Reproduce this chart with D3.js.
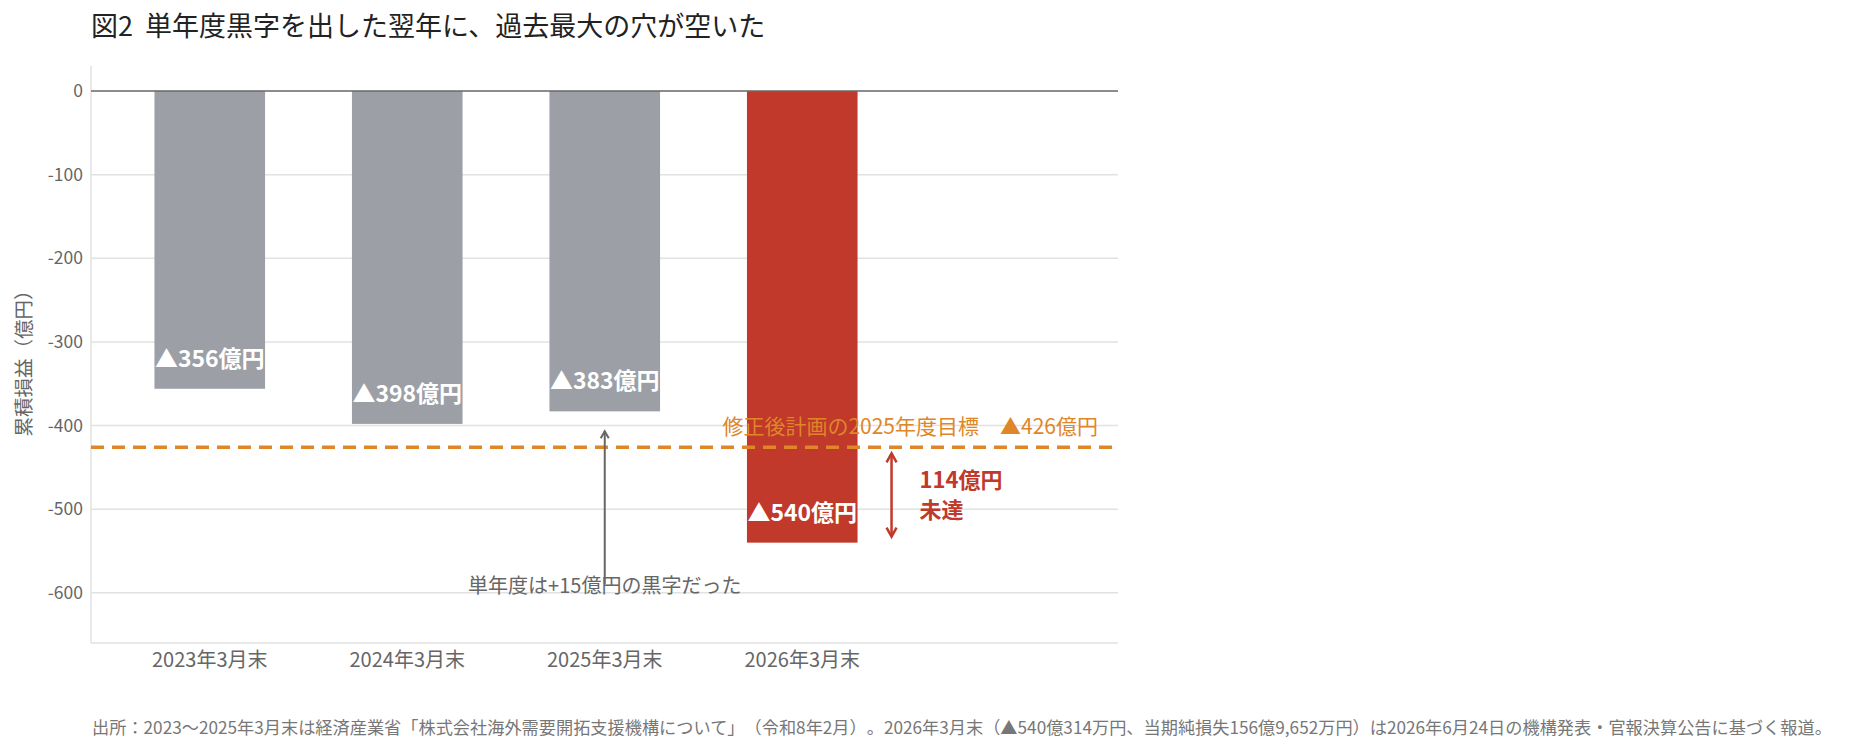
<!DOCTYPE html>
<html>
<head>
<meta charset="utf-8">
<script src="https://cdn.jsdelivr.net/npm/d3@7"></script>
<style>
  body { margin: 0; background: #fff; }
  svg { font-family: "Noto Sans CJK JP", "Noto Sans", sans-serif; text-spacing-trim: space-all; }
</style>
</head>
<body>
<div id="chart"></div>
<script>
// data
const categories = ["2023年3月末", "2024年3月末", "2025年3月末", "2026年3月末"];
const values = [-356, -398, -383, -540];
const barColors = ["#9ca0a6", "#9ca0a6", "#9ca0a6", "#c0392b"];
const yTicks = [0, -100, -200, -300, -400, -500, -600];
const target = -426;
const targetLabel = "修正後計画の2025年度目標　▲426億円";
const gapLines = ["114億円", "未達"];
const noteText = "単年度は+15億円の黒字だった";

function drawChart() {
    const width = 1850;
    const height = 751;
    const left = 91, right = 1118, top = 66, bottom = 643;

    const svg = d3.select("#chart")
        .append("svg")
        .attr("width", width)
        .attr("height", height);

    const x = d3.scaleBand()
        .domain(categories)
        .range([111, 901])
        .paddingInner(0.44)
        .paddingOuter(0.22);

    const y = d3.scaleLinear()
        .domain([-660, 30])
        .range([bottom, top]);

    // title
    const title = svg.append("text")
        .attr("x", 91)
        .attr("y", 36)
        .attr("font-size", 27)
        .attr("fill", "#222");
    title.append("tspan").text("図2");
    title.append("tspan").attr("dx", 12).text("単年度黒字を出した翌年に、過去最大の穴が空いた");

    // gridlines
    svg.append("g").selectAll("line")
        .data(yTicks.filter(d => d !== 0))
        .enter().append("line")
        .attr("x1", left)
        .attr("x2", right)
        .attr("y1", d => y(d))
        .attr("y2", d => y(d))
        .attr("stroke", "#e2e2e2")
        .attr("stroke-width", 1.5);

    // frame lines
    svg.append("line")
        .attr("x1", left).attr("x2", left)
        .attr("y1", top).attr("y2", bottom)
        .attr("stroke", "#e2e2e2").attr("stroke-width", 1.5);
    svg.append("line")
        .attr("x1", left).attr("x2", right)
        .attr("y1", bottom).attr("y2", bottom)
        .attr("stroke", "#e2e2e2").attr("stroke-width", 1.5);

    // y tick labels
    svg.append("g").selectAll("text")
        .data(yTicks)
        .enter().append("text")
        .attr("x", 83)
        .attr("y", d => y(d))
        .attr("dy", "0.35em")
        .attr("text-anchor", "end")
        .attr("font-size", 17.5)
        .attr("fill", "#666")
        .text(d => d);

    // y axis title
    svg.append("text")
        .attr("transform", "translate(24," + ((top + bottom) / 2 + 4) + ") rotate(-90)")
        .attr("text-anchor", "middle")
        .attr("dy", "0.35em")
        .attr("font-size", 19.5)
        .attr("fill", "#666")
        .text("累積損益（億円）");

    // bars
    svg.append("g").selectAll("rect")
        .data(values)
        .enter().append("rect")
        .attr("x", (d, i) => x(categories[i]))
        .attr("y", d => y(0))
        .attr("width", x.bandwidth())
        .attr("height", d => y(d) - y(0))
        .attr("fill", (d, i) => barColors[i]);

    // zero line
    svg.append("line")
        .attr("x1", left).attr("x2", right)
        .attr("y1", y(0)).attr("y2", y(0))
        .attr("stroke", "#666").attr("stroke-width", 1.5);

    // bar labels, clipped to each bar
    const defs = svg.append("defs");
    values.forEach((v, i) => {
        defs.append("clipPath")
            .attr("id", "clip" + i)
            .append("rect")
            .attr("x", x(categories[i]))
            .attr("y", y(0))
            .attr("width", x.bandwidth())
            .attr("height", y(v) - y(0));
    });
    svg.append("g").selectAll("text")
        .data(values)
        .enter().append("text")
        .attr("clip-path", (d, i) => "url(#clip" + i + ")")
        .attr("x", (d, i) => x(categories[i]) + x.bandwidth() / 2)
        .attr("y", d => y(d) - 22)
        .attr("text-anchor", "middle")
        .attr("font-size", 23)
        .attr("font-weight", "bold")
        .attr("fill", "#fff")
        .text(d => "▲" + Math.abs(d) + "億円");

    // x labels
    svg.append("g").selectAll("text")
        .data(categories)
        .enter().append("text")
        .attr("x", d => x(d) + x.bandwidth() / 2)
        .attr("y", 660)
        .attr("dy", "0.35em")
        .attr("text-anchor", "middle")
        .attr("font-size", 20)
        .attr("fill", "#666")
        .text(d => d);

    // target line
    svg.append("line")
        .attr("x1", left).attr("x2", right)
        .attr("y1", y(target)).attr("y2", y(target))
        .attr("stroke", "#de8628")
        .attr("stroke-width", 3.5)
        .attr("stroke-dasharray", "13,8");

    svg.append("text")
        .attr("x", 1098)
        .attr("y", y(target) - 21)
        .attr("dy", "0.35em")
        .attr("text-anchor", "end")
        .attr("font-size", 21)
        .attr("fill", "#de8628")
        .text(targetLabel);

    // gap arrow (target vs 2026)
    const last = categories.length - 1;
    const gx = x(categories[last]) + x.bandwidth() + 34;
    const gy1 = y(target) + 6, gy2 = y(values[last]) - 6;
    const red = "#c0392b";
    svg.append("line")
        .attr("x1", gx).attr("x2", gx)
        .attr("y1", gy1 + 1).attr("y2", gy2 - 1)
        .attr("stroke", red).attr("stroke-width", 2.5);
    svg.append("path")
        .attr("d", `M${gx - 5},${gy1 + 9}L${gx},${gy1}L${gx + 5},${gy1 + 9}`)
        .attr("fill", "none").attr("stroke", red).attr("stroke-width", 2.5);
    svg.append("path")
        .attr("d", `M${gx - 5},${gy2 - 9}L${gx},${gy2}L${gx + 5},${gy2 - 9}`)
        .attr("fill", "none").attr("stroke", red).attr("stroke-width", 2.5);

    svg.append("g").selectAll("text")
        .data(gapLines)
        .enter().append("text")
        .attr("x", gx + 28)
        .attr("y", (d, i) => 480 + i * 30)
        .attr("dy", "0.35em")
        .attr("font-size", 22)
        .attr("font-weight", "bold")
        .attr("fill", red)
        .text(d => d);

    // note arrow under 2025 bar
    const nx = x(categories[2]) + x.bandwidth() / 2;
    const ny1 = y(values[2]) + 20;
    svg.append("line")
        .attr("x1", nx).attr("x2", nx)
        .attr("y1", ny1).attr("y2", 584)
        .attr("stroke", "#666").attr("stroke-width", 2);
    svg.append("path")
        .attr("d", `M${nx - 4},${ny1 + 7}L${nx},${ny1}L${nx + 4},${ny1 + 7}`)
        .attr("fill", "none").attr("stroke", "#666").attr("stroke-width", 2);

    svg.append("text")
        .attr("x", nx)
        .attr("y", 586)
        .attr("dy", "0.35em")
        .attr("text-anchor", "middle")
        .attr("font-size", 20)
        .attr("fill", "#666")
        .text(noteText);

    // source note
    svg.append("text")
        .attr("x", 92)
        .attr("y", 728)
        .attr("dy", "0.35em")
        .attr("font-size", 17.2)
        .attr("fill", "#777")
        .text("出所：2023〜2025年3月末は経済産業省「株式会社海外需要開拓支援機構について」（令和8年2月）。2026年3月末（▲540億314万円、当期純損失156億9,652万円）は2026年6月24日の機構発表・官報決算公告に基づく報道。");
}

drawChart();
</script>
</body>
</html>
